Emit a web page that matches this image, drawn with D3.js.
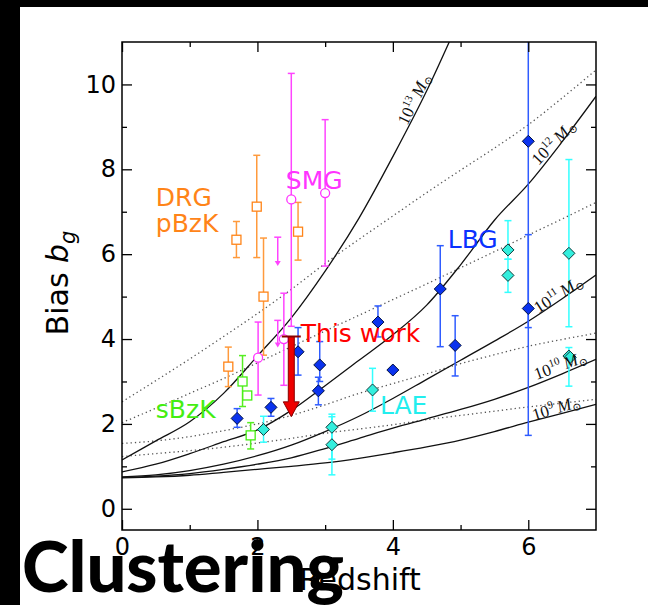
<!DOCTYPE html>
<html><head><meta charset="utf-8">
<script src="https://cdn.jsdelivr.net/npm/d3@7"></script>
<style>body{margin:0;background:#fff}svg{display:block}</style>
</head><body>
<script>
// ---------- DATA ----------
const zGrid = [0,0.5,1,1.5,2,2.5,3,3.5,4,4.5,5,5.5,6,6.5,7];
const zGrid13 = [0,0.5,1,1.5,2,2.5,3,3.5,4,4.5,5];
const halo13 = [1.15,1.6,2.05,2.72,3.6,4.5,5.6,6.85,8.3,9.85,11.6];
const halo12 = [0.87,1.05,1.3,1.58,1.86,2.32,2.9,3.5,4.1,4.8,5.75,6.8,7.65,8.65,9.72];
const halo11 = [0.75,0.8,0.9,1.05,1.25,1.5,1.82,2.18,2.6,3.05,3.5,3.95,4.42,4.95,5.51];
const halo10 = [0.74,0.77,0.83,0.93,1.05,1.2,1.42,1.66,1.9,2.12,2.34,2.58,2.86,3.18,3.52];
const halo9  = [0.73,0.75,0.79,0.86,0.93,1.0,1.08,1.19,1.32,1.46,1.62,1.82,2.04,2.25,2.46];
const dotA = [2.52,3.02,3.53,4.06,4.6,5.17,5.78,6.35,6.9,7.45,7.98,8.5,9.05,9.68,10.34];
const dotB = [2.03,2.37,2.72,3.07,3.44,3.82,4.19,4.56,4.93,5.3,5.68,6.06,6.45,6.83,7.22];
const dotC = [1.54,1.6,1.7,1.84,2.0,2.2,2.45,2.72,2.95,3.18,3.42,3.63,3.83,3.99,4.14];
const dotD = [1.23,1.3,1.37,1.45,1.55,1.66,1.78,1.88,1.98,2.1,2.2,2.3,2.4,2.49,2.58];

// [z, bias, low, high]
const drg  = [[1.57,3.35,2.88,3.81],[1.69,6.34,5.92,6.77],[1.99,7.12,5.92,8.33],[2.09,5.0,3.62,6.38],[2.6,6.53,5.86,7.22]];
const smg  = [[2.01,3.56,2.68,4.40],[2.39,4.0,2.91,5.08],[2.5,7.29,4.3,10.26],[3.0,7.44,5.72,9.17]];
const smgLimits = [[2.3,6.4,5.72],[2.3,4.44,3.8]]; // [z, top, arrow tip]
const sbzk = [[1.78,3.0,2.41,3.61],[1.85,2.67,null,null],[1.9,1.73,1.41,2.03]];
const lbg  = [[1.7,2.13,1.92,2.36],[2.2,2.39,2.18,2.6],[2.6,3.7,3.15,4.27],[2.92,3.39,3.0,3.94],
              [2.9,2.78,2.45,3.1],[3.78,4.4,4.05,4.78],[4.0,3.27,null,null],[4.7,5.18,3.82,6.2],
              [4.92,3.85,3.13,4.55],[6.0,8.66,4.27,11.5],[6.0,4.72,1.73,6.46]];
const lae  = [[2.09,1.87,1.57,2.18],[3.1,1.92,1.17,2.23],[3.1,1.51,0.8,2.17],[3.7,2.8,2.3,3.31],
              [5.7,6.1,5.88,6.79],[5.7,5.5,5.1,5.88],[6.6,6.02,4.29,8.23],[6.6,3.6,2.89,3.8],[6.62,3.57,null,null]];
const thisWork = {z:2.5, top:4.06, headBase:2.52, tip:2.17};

const xTicks = [0,2,4,6], xMinor = [1,3,5];
const yTicks = [0,2,4,6,8,10], yMinor = [1,3,5,7,9];

const groupLabels = [
  {t:"DRG", z:0.5, b:7.14, c:"#ff8418"},
  {t:"pBzK", z:0.5, b:6.52, c:"#ff8418"},
  {t:"SMG", z:2.42, b:7.54, c:"#ff33ff"},
  {t:"LBG", z:4.81, b:6.15, c:"#0a32ff"},
  {t:"This work", z:2.64, b:3.93, c:"#ff0000"},
  {t:"sBzK", z:0.5, b:2.14, c:"#44ee11"},
  {t:"LAE", z:3.81, b:2.23, c:"#22eeee"}
];
const massLabelPos = [
  {e:"13", z:4.31, b:9.66, a:-64},
  {e:"12", z:6.37, b:8.64, a:-46},
  {e:"11", z:6.44, b:5.06, a:-33},
  {e:"10", z:6.47, b:3.39, a:-20},
  {e:"9",  z:6.41, b:2.38, a:-17}
];

// ---------- LAYOUT ----------
const W = 648, H = 605;
const svg = d3.select("body").append("svg").attr("width",W).attr("height",H);
svg.append("rect").attr("width",W).attr("height",H).attr("fill","#fff");

const x = d3.scaleLinear().domain([0,7]).range([122,596]);
const y = d3.scaleLinear().domain([-0.5,11]).range([530,42]);

svg.append("clipPath").attr("id","clip").append("rect")
  .attr("x",122).attr("y",42).attr("width",474).attr("height",488);
const plot = svg.append("g").attr("clip-path","url(#clip)");

const line = d3.line().x(d=>x(d[0])).y(d=>y(d[1])).curve(d3.curveMonotoneX);
const solid = [[zGrid13,halo13],[zGrid,halo12],[zGrid,halo11],[zGrid,halo10],[zGrid,halo9]];
const dotted = [dotA,dotB,dotC,dotD];
dotted.forEach(arr=>{
  plot.append("path").attr("d",line(zGrid.map((z,i)=>[z,arr[i]])))
    .attr("fill","none").attr("stroke","#555").attr("stroke-width",1.3)
    .attr("stroke-dasharray","1.3,3");
});
solid.forEach(([zs,arr])=>{
  plot.append("path").attr("d",line(zs.map((z,i)=>[z,arr[i]])))
    .attr("fill","none").attr("stroke","#111").attr("stroke-width",1.3);
});

// mass labels
massLabelPos.forEach(m=>{
  const t = svg.append("text")
    .attr("transform",`translate(${x(m.z)},${y(m.b)}) rotate(${m.a})`)
    .attr("text-anchor","middle").attr("dy","0.35em")
    .attr("font-family","'Liberation Serif','DejaVu Serif',serif").attr("font-size",17).attr("fill","#111");
  t.append("tspan").text("10");
  t.append("tspan").attr("font-size",11).attr("dy",-7).text(m.e);
  t.append("tspan").attr("dy",7).text("\u2009");
  t.append("tspan").attr("font-style","italic").text("M");
  t.append("tspan").attr("font-size",11).attr("dy",3).text("\u2299");
});

// error bars helper
function errBars(data, color, width){
  data.forEach(d=>{
    if(d[2]==null) return;
    plot.append("line").attr("x1",x(d[0])).attr("x2",x(d[0]))
      .attr("y1",y(d[2])).attr("y2",y(d[3])).attr("stroke",color).attr("stroke-width",width||1.5);
    [d[2],d[3]].forEach(v=>{
      plot.append("line").attr("x1",x(d[0])-3.5).attr("x2",x(d[0])+3.5)
        .attr("y1",y(v)).attr("y2",y(v)).attr("stroke",color).attr("stroke-width",1.5);
    });
  });
}
errBars(drg,"#ff9a3c");
errBars(smg,"#ff44ff");
errBars(sbzk,"#55ee22");
errBars(lbg,"#2f5cff");
errBars(lae,"#33ffff");

// SMG upper limits
smgLimits.forEach(d=>{
  const xx=x(d[0]);
  plot.append("line").attr("x1",xx).attr("x2",xx).attr("y1",y(d[1])).attr("y2",y(d[2])-4)
    .attr("stroke","#ff44ff").attr("stroke-width",1.5);
  plot.append("line").attr("x1",xx-3.5).attr("x2",xx+3.5).attr("y1",y(d[1])).attr("y2",y(d[1]))
    .attr("stroke","#ff44ff").attr("stroke-width",1.5);
  plot.append("path").attr("d",`M${xx-3},${y(d[2])-5}L${xx+3},${y(d[2])-5}L${xx},${y(d[2])}Z`)
    .attr("fill","#ff44ff");
});

// markers
const diamond = r=>`M0,${-r}L${r},0L0,${r}L${-r},0Z`;
drg.forEach(d=>plot.append("rect").attr("x",x(d[0])-4.5).attr("y",y(d[1])-4.5).attr("width",9).attr("height",9)
  .attr("fill","#fff").attr("stroke","#ff8418").attr("stroke-width",1.3));
sbzk.forEach(d=>plot.append("rect").attr("x",x(d[0])-4.5).attr("y",y(d[1])-4.5).attr("width",9).attr("height",9)
  .attr("fill","#fff").attr("stroke","#44ee11").attr("stroke-width",1.3));
smg.forEach(d=>plot.append("circle").attr("cx",x(d[0])).attr("cy",y(d[1])).attr("r",4.5)
  .attr("fill","#fff").attr("stroke","#ff33ff").attr("stroke-width",1.3));
lbg.forEach(d=>plot.append("path").attr("transform",`translate(${x(d[0])},${y(d[1])})`).attr("d",diamond(6))
  .attr("fill","#0a32ee").attr("stroke","#001040").attr("stroke-width",1));
lae.forEach(d=>plot.append("path").attr("transform",`translate(${x(d[0])},${y(d[1])})`).attr("d",diamond(6))
  .attr("fill","#33eedd").attr("stroke","#0d3a3a").attr("stroke-width",1));

// this work arrow
{
  const cx=x(thisWork.z), yt=y(thisWork.top), yh=y(thisWork.headBase), yp=y(thisWork.tip);
  svg.append("path").attr("d",`M${cx-3},${yt}L${cx+3},${yt}L${cx+3},${yh}L${cx+8},${yh}L${cx},${yp}L${cx-8},${yh}L${cx-3},${yh}Z`)
    .attr("fill","#ee0000").attr("stroke","#880000").attr("stroke-width",1);
  svg.append("line").attr("x1",cx-9.5).attr("x2",cx+9.5).attr("y1",yt).attr("y2",yt)
    .attr("stroke","#880000").attr("stroke-width",2);
}

// group labels
groupLabels.forEach(g=>svg.append("text").attr("x",x(g.z)).attr("y",y(g.b))
  .attr("font-family","'DejaVu Sans',sans-serif").attr("font-size",25).attr("fill",g.c).text(g.t));

// ---------- AXES ----------
const fontAx = "'DejaVu Sans',sans-serif";
function styleAxis(g){ g.select(".domain").remove(); g.selectAll("line").attr("stroke","#000").attr("stroke-width",1.3); }
svg.append("g").attr("transform","translate(0,530)")
  .call(d3.axisBottom(x).tickValues(xTicks).tickSize(-10).tickSizeOuter(0).tickPadding(8).tickFormat(d3.format("d")))
  .call(styleAxis).call(g=>g.selectAll("text").attr("font-family",fontAx).attr("font-size",24).attr("fill","#000"));
svg.append("g").attr("transform","translate(0,530)")
  .call(d3.axisBottom(x).tickValues(xMinor).tickSize(-5).tickFormat("")).call(styleAxis);
svg.append("g").attr("transform","translate(0,42)")
  .call(d3.axisTop(x).tickValues(xTicks).tickSize(-10).tickFormat("")).call(styleAxis);
svg.append("g").attr("transform","translate(0,42)")
  .call(d3.axisTop(x).tickValues(xMinor).tickSize(-5).tickFormat("")).call(styleAxis);
svg.append("g").attr("transform","translate(122,0)")
  .call(d3.axisLeft(y).tickValues(yTicks).tickSize(-10).tickPadding(6).tickFormat(d3.format("d")))
  .call(styleAxis).call(g=>g.selectAll("text").attr("font-family",fontAx).attr("font-size",24).attr("fill","#000"));
svg.append("g").attr("transform","translate(122,0)")
  .call(d3.axisLeft(y).tickValues(yMinor).tickSize(-5).tickFormat("")).call(styleAxis);
svg.append("g").attr("transform","translate(596,0)")
  .call(d3.axisRight(y).tickValues(yTicks).tickSize(-10).tickFormat("")).call(styleAxis);
svg.append("g").attr("transform","translate(596,0)")
  .call(d3.axisRight(y).tickValues(yMinor).tickSize(-5).tickFormat("")).call(styleAxis);
svg.append("rect").attr("x",122).attr("y",42).attr("width",474).attr("height",488)
  .attr("fill","none").attr("stroke","#000").attr("stroke-width",1.5);

// axis titles
const yl = svg.append("text").attr("transform","translate(68,283) rotate(-90)")
  .attr("text-anchor","middle").attr("font-family",fontAx).attr("font-size",30).attr("fill","#000");
yl.append("tspan").text("Bias ");
yl.append("tspan").attr("font-style","italic").text("b");
yl.append("tspan").attr("font-size",21).attr("font-style","italic").attr("dy",7).text("g");
svg.append("text").attr("x",360).attr("y",590).attr("text-anchor","middle")
  .attr("font-family",fontAx).attr("font-size",30).attr("fill","#000").text("Redshift");

// frame bands and title
svg.append("rect").attr("x",0).attr("y",0).attr("width",W).attr("height",7).attr("fill","#000");
svg.append("rect").attr("x",0).attr("y",0).attr("width",20).attr("height",H).attr("fill","#000");
svg.append("text").attr("x",22).attr("y",592).attr("font-family","Lato,'Open Sans',sans-serif")
  .attr("font-weight",900).attr("font-size",70).attr("fill","#000")
  .attr("textLength",322).attr("lengthAdjust","spacingAndGlyphs").text("Clustering");
</script>
</body></html>
